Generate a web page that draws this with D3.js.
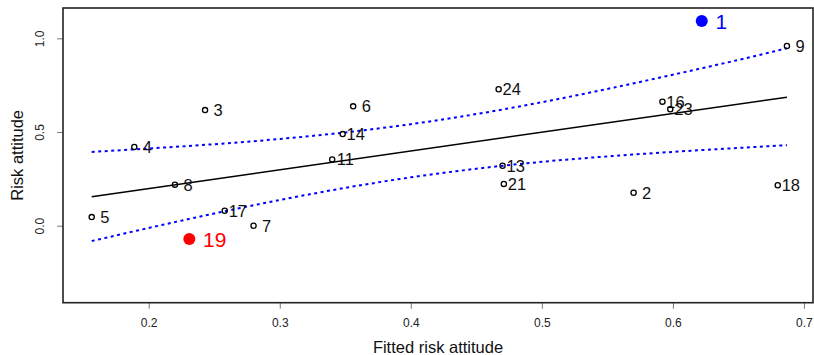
<!DOCTYPE html>
<html>
<head>
<meta charset="utf-8">
<script src="https://cdn.jsdelivr.net/npm/d3@7"></script>
<style>
    body { margin: 0; background: #fff; }
    svg { display: block; font-family: Arial, "Liberation Sans", Helvetica, sans-serif; }
</style>
</head>
<body>
<svg id="chart" width="814" height="355"></svg>
<script>
// subject ids and their values
const ids = [1, 2, 3, 4, 5, 6, 7, 8, 9, 11, 13, 14, 16, 17, 18, 19, 21, 23, 24];
const fitted = [0.622, 0.570, 0.243, 0.189, 0.1565, 0.356, 0.280, 0.220, 0.687, 0.340, 0.470, 0.348, 0.592, 0.258, 0.680, 0.231, 0.471, 0.598, 0.467];
const risk = [1.092, 0.176, 0.617, 0.420, 0.046, 0.637, 0.000, 0.219, 0.959, 0.354, 0.320, 0.489, 0.662, 0.080, 0.216, -0.071, 0.223, 0.621, 0.728];

// highlighted subjects
const highlightIds = [1, 19];
const highlightColors = ["#0000ff", "#ff0000"];

// regression line
const fitLineX = [0.1565, 0.687];
const fitLineY = [0.155, 0.686];

// confidence band
const bandX = [0.1565, 0.20, 0.25, 0.30, 0.35, 0.40, 0.45, 0.50, 0.55, 0.60, 0.65, 0.687];
const bandUpper = [0.394, 0.412, 0.435, 0.463, 0.498, 0.542, 0.596, 0.659, 0.730, 0.806, 0.885, 0.947];
const bandLower = [-0.082, -0.012, 0.065, 0.137, 0.202, 0.258, 0.304, 0.341, 0.370, 0.394, 0.415, 0.430];

const xTicks = [0.2, 0.3, 0.4, 0.5, 0.6, 0.7];
const yTicks = [0.0, 0.5, 1.0];
const xDomain = [0.1346, 0.7069];
const yDomain = [-0.411, 1.162];

class FitPlot {
    constructor (element, configs) {
        this.svg = d3.select(element);
        this.config = Object.assign({}, {
            left: 63, right: 813, top: 8, bottom: 302.7
        }, configs);
        this.x = d3.scaleLinear().domain(xDomain).range([this.config.left, this.config.right]);
        this.y = d3.scaleLinear().domain(yDomain).range([this.config.bottom, this.config.top]);
        this.drawAxes();
        this.drawLines();
        this.drawPoints();
    }

    drawAxes () {
        const c = this.config;
        const xa = this.svg.append("g")
            .attr("transform", "translate(0," + c.bottom + ")")
            .call(d3.axisBottom(this.x).tickValues(xTicks).tickSize(6).tickPadding(10)
                .tickFormat(d3.format(".1f")));
        xa.select(".domain").remove();

        const ya = this.svg.append("g")
            .attr("transform", "translate(" + c.left + ",0)")
            .call(d3.axisLeft(this.y).tickValues(yTicks).tickSize(6)
                .tickFormat(d3.format(".1f")));
        ya.select(".domain").remove();
        ya.selectAll("text")
            .attr("x", null)
            .attr("dy", null)
            .attr("text-anchor", "middle")
            .attr("transform", "translate(-19,0) rotate(-90)");

        this.svg.selectAll(".tick line").attr("stroke", "#777");
        this.svg.selectAll(".tick text").attr("font-size", 12).attr("fill", "#222")
            .attr("font-family", "Arial, 'Liberation Sans', sans-serif");

        this.svg.append("rect")
            .attr("x", c.left).attr("y", c.top)
            .attr("width", c.right - c.left).attr("height", c.bottom - c.top)
            .attr("fill", "none").attr("stroke", "#222").attr("stroke-width", 1.6);

        this.svg.append("text")
            .attr("x", (c.left + c.right) / 2).attr("y", 353)
            .attr("text-anchor", "middle").attr("font-size", 16.5).attr("fill", "#111")
            .text("Fitted risk attitude");

        this.svg.append("text")
            .attr("transform", "translate(23," + (c.top + c.bottom) / 2 + ") rotate(-90)")
            .attr("text-anchor", "middle").attr("font-size", 16.5).attr("fill", "#111")
            .text("Risk attitude");
    }

    drawLines () {
        const band = d3.line()
            .x((d) => this.x(d[0]))
            .y((d) => this.y(d[1]))
            .curve(d3.curveMonotoneX);

        [bandUpper, bandLower].forEach((vals) => {
            this.svg.append("path")
                .datum(bandX.map((v, i) => [v, vals[i]]))
                .attr("d", band)
                .attr("fill", "none")
                .attr("stroke", "#0000ff")
                .attr("stroke-width", 2)
                .attr("stroke-dasharray", "3,3.5");
        });

        this.svg.append("path")
            .datum(fitLineX.map((v, i) => [v, fitLineY[i]]))
            .attr("d", d3.line().x((d) => this.x(d[0])).y((d) => this.y(d[1])))
            .attr("fill", "none")
            .attr("stroke", "#000")
            .attr("stroke-width", 1.5);
    }

    drawPoints () {
        const data = ids.map((id, i) => {
            const h = highlightIds.indexOf(id);
            return {id: id, x: fitted[i], y: risk[i], color: h >= 0 ? highlightColors[h] : null};
        });

        const g = this.svg.append("g")
            .selectAll("g")
            .data(data)
            .enter()
            .append("g");

        g.append("circle")
            .attr("cx", (d) => this.x(d.x))
            .attr("cy", (d) => this.y(d.y))
            .attr("r", (d) => d.color ? 6 : 2.6)
            .attr("fill", (d) => d.color ? d.color : "none")
            .attr("stroke", (d) => d.color ? "none" : "#000")
            .attr("stroke-width", 1.3);

        // highlighted labels sit left-aligned, the others centred next to the point
        g.append("text")
            .attr("x", (d) => this.x(d.x + (d.color ? 0.0105 : 0.01)))
            .attr("y", (d) => this.y(d.y))
            .attr("dy", "0.36em")
            .attr("text-anchor", (d) => d.color ? "start" : "middle")
            .attr("font-size", (d) => d.color ? 21 : 16.5)
            .attr("fill", (d) => d.color ? d.color : "#111")
            .text((d) => d.id);
    }
}

new FitPlot("#chart");
</script>
</body>
</html>
